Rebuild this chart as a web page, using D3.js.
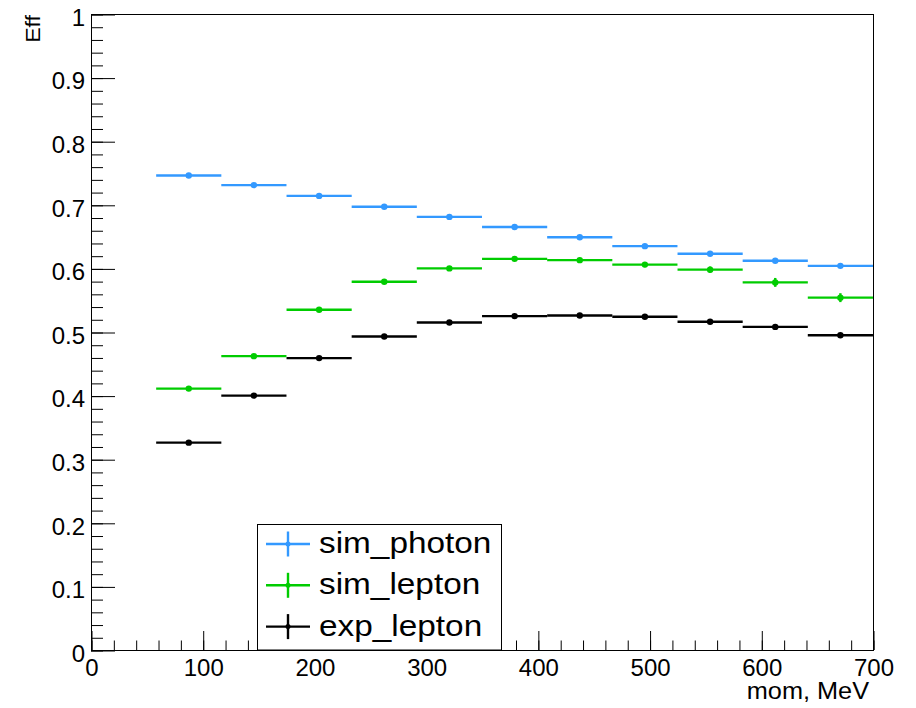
<!DOCTYPE html>
<html>
<head>
<meta charset="utf-8">
<script src="https://cdn.jsdelivr.net/npm/d3@7"></script>
<style>
body { margin: 0; background: #fff; }
text { font-family: "Liberation Sans", Arial, sans-serif; fill: #000; }
</style>
</head>
<body>
<svg width="916" height="708"></svg>
<script>
// bin centres (MeV) and half width of each bin
const momCenters = [87.5, 145.8, 204.2, 262.5, 320.8, 379.2, 437.5, 495.8, 554.2, 612.5, 670.8]
const binHalf = 29.17

const simPhoton = [0.746, 0.731, 0.714, 0.697, 0.681, 0.665, 0.649, 0.635, 0.623, 0.612, 0.604]
const simPhotonErr = [0.003, 0.003, 0.003, 0.003, 0.003, 0.003, 0.003, 0.003, 0.003, 0.003, 0.003]
const simLepton = [0.411, 0.462, 0.535, 0.579, 0.600, 0.615, 0.613, 0.606, 0.598, 0.578, 0.554]
const simLeptonErr = [0.003, 0.003, 0.003, 0.003, 0.003, 0.003, 0.003, 0.004, 0.005, 0.007, 0.007]
const expLepton = [0.326, 0.400, 0.459, 0.493, 0.515, 0.525, 0.526, 0.524, 0.516, 0.508, 0.495]
const expLeptonErr = [0.002, 0.002, 0.002, 0.002, 0.002, 0.002, 0.002, 0.002, 0.002, 0.002, 0.002]

const series = [
    { name: "sim_photon", color: "#3399ff", vals: simPhoton, errs: simPhotonErr },
    { name: "sim_lepton", color: "#00cc00", vals: simLepton, errs: simLeptonErr },
    { name: "exp_lepton", color: "#000000", vals: expLepton, errs: expLeptonErr }
]

const svg = d3.select("svg")
const x = d3.scaleLinear().domain([0, 700]).range([91, 873])
const y = d3.scaleLinear().domain([0, 1]).range([650, 14])

// frame
svg.append("rect")
    .attr("x", 91.5).attr("y", 14.5)
    .attr("width", 873 - 91).attr("height", 650 - 14)
    .attr("fill", "none").attr("stroke", "#000").attr("stroke-width", 1)

// x axis: minor + major ticks pointing inward
svg.append("g")
    .attr("transform", "translate(0.5,650)")
    .call(d3.axisBottom(x).tickValues(d3.range(0, 701, 20)).tickSize(-9.5).tickFormat(""))
    .call(g => g.select(".domain").remove())
svg.append("g")
    .attr("class", "xaxis")
    .attr("transform", "translate(0.5,650)")
    .call(d3.axisBottom(x).tickValues(d3.range(0, 701, 100)).tickSize(-19).tickPadding(9))
    .call(g => g.select(".domain").remove())
    .selectAll("text").attr("font-size", 24).attr("font-family", null)

// y axis
svg.append("g")
    .attr("transform", "translate(91,0.5)")
    .call(d3.axisLeft(y).tickValues(d3.range(0, 51).map(d => d / 50)).tickSize(-12).tickFormat(""))
    .call(g => g.select(".domain").remove())
svg.append("g")
    .attr("transform", "translate(91,0.5)")
    .call(d3.axisLeft(y).tickValues(d3.range(0, 11).map(d => d / 10)).tickSize(-24).tickPadding(6)
        .tickFormat(d3.format(".1~f")))
    .call(g => g.select(".domain").remove())
    .selectAll("text").attr("font-size", 24).attr("font-family", null).attr("dy", "0.45em")

svg.selectAll(".tick line").attr("stroke", "#000")

// axis titles
svg.append("text")
    .attr("transform", "translate(869,699) scale(1.1,1)")
    .attr("text-anchor", "end")
    .attr("font-size", 23)
    .text("mom, MeV")

svg.append("text")
    .attr("transform", "translate(40,15) rotate(-90) scale(1.1,1)")
    .attr("text-anchor", "end")
    .attr("font-size", 21)
    .text("Eff")

// data points
series.forEach(s => {
    const g = svg.append("g")
    const pts = momCenters.map((c, i) => ({ c: c, v: s.vals[i], e: s.errs[i] }))
    g.selectAll("line.h").data(pts).join("line")
        .attr("class", "h")
        .attr("x1", d => x(d.c - binHalf)).attr("x2", d => x(d.c + binHalf))
        .attr("y1", d => y(d.v)).attr("y2", d => y(d.v))
        .attr("stroke", s.color).attr("stroke-width", 2.4)
    g.selectAll("line.v").data(pts).join("line")
        .attr("class", "v")
        .attr("x1", d => x(d.c)).attr("x2", d => x(d.c))
        .attr("y1", d => y(d.v - d.e)).attr("y2", d => y(d.v + d.e))
        .attr("stroke", s.color).attr("stroke-width", 2.4)
    g.selectAll("circle").data(pts).join("circle")
        .attr("cx", d => x(d.c)).attr("cy", d => y(d.v))
        .attr("r", 3.2)
        .attr("fill", s.color)
})

// legend
const leg = svg.append("g")
leg.append("rect")
    .attr("x", 257.5).attr("y", 524.5).attr("width", 244).attr("height", 125.5)
    .attr("fill", "#fff").attr("stroke", "#000").attr("stroke-width", 1)

series.forEach((s, i) => {
    const cy = 544 + i * 41.3
    leg.append("line")
        .attr("x1", 266).attr("x2", 310).attr("y1", cy).attr("y2", cy)
        .attr("stroke", s.color).attr("stroke-width", 2.4)
    leg.append("line")
        .attr("x1", 288).attr("x2", 288).attr("y1", cy - 12.5).attr("y2", cy + 12.5)
        .attr("stroke", s.color).attr("stroke-width", 2.4)
    leg.append("circle")
        .attr("cx", 288).attr("cy", cy).attr("r", 2.5).attr("fill", s.color)
    leg.append("text")
        .attr("transform", `translate(319,${cy + 9}) scale(1.15,1)`)
        .attr("font-size", 29)
        .text(s.name)
})
</script>
</body>
</html>
